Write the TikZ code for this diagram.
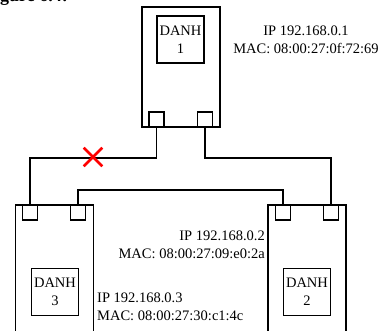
\documentclass[tikz,border=0pt]{standalone}
\usepackage{fontspec}
\setmainfont{Liberation Serif}
\usetikzlibrary{shapes.misc, positioning}

\begin{document}
\begin{tikzpicture}[
  x=1pt, y=-1pt,
  font=\fontsize{14.5}{18}\selectfont,
  host/.style={draw, line width=1.6pt, minimum width=78pt, inner sep=0pt},
  card/.style={draw, line width=1.6pt, minimum width=47pt, minimum height=47pt,
    inner sep=0pt, align=center},
  port/.style={draw, line width=1.6pt, minimum size=15pt, inner sep=0pt, fill=white},
  wire/.style={line width=1.4pt},
  addr/.style={inner sep=0pt}
]
\useasboundingbox (0,0) rectangle (381,331);
\clip (0,0) rectangle (381,331);

% caption remains
\node[anchor=base west, inner sep=0pt, font=\bfseries\fontsize{18}{20}\selectfont]
  (fig) at (-16,2) {Figure 6.4:};

% Host 1 (top)
\node[host, minimum height=120pt] (host1) at (181,67) {};
\node[card] (danh1) at (180.5,39.5) {DANH\\1};
\node[port] (p1a) at (156.5,119.5) {};
\node[port] (p1b) at (205,119.5) {};

% Host 3 (left)
\node[host, minimum height=140pt] (host3) at (54.5,275) {};
\node[card] (danh3) at (55,292) {DANH\\3};
\node[port] (p3a) at (30,212.5) {};
\node[port] (p3b) at (78,212.5) {};

% Host 2 (right)
\node[host, minimum height=140pt] (host2) at (307,275) {};
\node[card] (danh2) at (307,292) {DANH\\2};
\node[port] (p2a) at (283,212.5) {};
\node[port] (p2b) at (331,212.5) {};

% Addresses
\node[addr, align=center] (ip1) at (306,40)
  {IP 192.168.0.1\\MAC: 08:00:27:0f:72:69};
\node[addr, align=right, anchor=east] (ip2) at (265,245)
  {IP 192.168.0.2\\MAC: 08:00:27:09:e0:2a};
\node[addr, align=left, anchor=west] (ip3) at (97,307)
  {IP 192.168.0.3\\MAC: 08:00:27:30:c1:4c};

% Links
\coordinate (bus1) at (0,158);
\coordinate (bus2) at (0,190);
\draw[wire] (p1a.south) -- (p1a.south |- bus1) -| (p3a.north);
\draw[wire] (p1b.south) -- (p1b.south |- bus1) -| (p2b.north);
\draw[wire] (p3b.north) -- (p3b.north |- bus2) -| (p2a.north);

% Broken link
\node[cross out, draw=red, line width=2.6pt, minimum size=16pt, inner sep=0pt]
  (cut) at (93,157) {};

\end{tikzpicture}
\end{document}
